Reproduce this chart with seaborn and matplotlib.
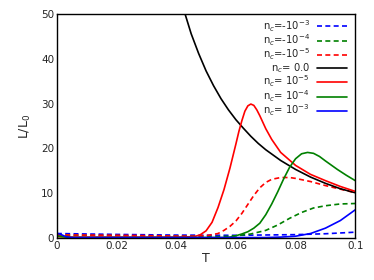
import numpy as np
import pandas as pd
import seaborn as sns
import matplotlib
matplotlib.use("Agg")
import matplotlib.pyplot as plt

sns.set_style("white")

# values (T, L/L0)
T_black = [0.040, 0.0425, 0.045, 0.0475, 0.050, 0.0525, 0.055, 0.0575, 0.060, 0.0625, 0.065,
           0.0675, 0.070, 0.075, 0.080, 0.085, 0.090, 0.095, 0.100]
L_black = [57.1, 51.0, 45.6, 41.2, 37.3, 34.0, 31.1, 28.6, 26.4, 24.5, 22.7,
           21.1, 19.7, 17.3, 15.3, 13.6, 12.2, 11.0, 10.1]

T_r = [0.0, 0.005, 0.02, 0.04, 0.046, 0.048, 0.050, 0.052, 0.054, 0.056, 0.058, 0.060, 0.061,
       0.062, 0.063, 0.064, 0.065, 0.066, 0.067, 0.068, 0.070, 0.072, 0.075, 0.080, 0.085,
       0.090, 0.095, 0.100]
L_r = [0.3, 0.2, 0.2, 0.2, 0.3, 0.7, 1.6, 3.5, 6.8, 10.8, 15.6, 21.0, 23.8,
       26.2, 28.3, 29.5, 29.9, 29.6, 28.6, 27.3, 24.4, 22.0, 19.1, 16.2, 14.2,
       12.8, 11.5, 10.4]

T_g = [0.0, 0.005, 0.03, 0.056, 0.058, 0.060, 0.062, 0.064, 0.066, 0.068, 0.070, 0.072, 0.074,
       0.076, 0.078, 0.080, 0.082, 0.084, 0.086, 0.088, 0.090, 0.094, 0.097, 0.100]
L_g = [0.4, 0.1, 0.1, 0.1, 0.2, 0.5, 0.9, 1.4, 2.2, 3.3, 5.2, 7.6, 10.3,
       13.2, 15.8, 17.7, 18.8, 19.1, 18.9, 18.2, 17.2, 15.3, 14.0, 12.8]

T_b = [0.0, 0.001, 0.003, 0.005, 0.03, 0.070, 0.075, 0.080, 0.085, 0.090, 0.095, 0.100]
L_b = [1.0, 0.9, 0.3, 0.1, 0.1, 0.1, 0.2, 0.4, 1.0, 2.2, 3.9, 6.3]

T_rd = [0.0, 0.02, 0.046, 0.050, 0.054, 0.056, 0.058, 0.060, 0.062, 0.064, 0.066, 0.068,
        0.070, 0.072, 0.075, 0.078, 0.080, 0.085, 0.090, 0.095, 0.100]
L_rd = [0.7, 0.6, 0.4, 0.5, 1.0, 1.7, 2.6, 3.8, 5.5, 7.5, 9.5, 11.2,
        12.4, 13.1, 13.5, 13.5, 13.3, 12.6, 11.7, 10.9, 10.1]

T_gd = [0.0, 0.02, 0.055, 0.060, 0.065, 0.070, 0.074, 0.078, 0.082, 0.086, 0.090, 0.095, 0.100]
L_gd = [0.6, 0.5, 0.3, 0.5, 0.9, 1.7, 2.9, 4.4, 5.7, 6.7, 7.2, 7.6, 7.7]

T_bd = [0.0, 0.02, 0.04, 0.06, 0.08, 0.09, 0.100]
L_bd = [1.0, 0.8, 0.65, 0.6, 0.75, 0.95, 1.3]

series = [
    (r"n$_c$=-10$^{-3}$", T_bd, L_bd, "blue", "--"),
    (r"n$_c$=-10$^{-4}$", T_gd, L_gd, "green", "--"),
    (r"n$_c$=-10$^{-5}$", T_rd, L_rd, "red", "--"),
    (r"n$_c$= 0.0", T_black, L_black, "black", "-"),
    (r"n$_c$= 10$^{-5}$", T_r, L_r, "red", "-"),
    (r"n$_c$= 10$^{-4}$", T_g, L_g, "green", "-"),
    (r"n$_c$= 10$^{-3}$", T_b, L_b, "blue", "-"),
]

fig, ax = plt.subplots(figsize=(3.74, 2.8), dpi=100)
for label, t, l, c, ls in series:
    df = pd.DataFrame({"T": t, "L": l})
    sns.lineplot(data=df, x="T", y="L", ax=ax, color=c, linestyle=ls,
                 linewidth=1.2, label=label, dashes=False)
    if ls == "--":
        ax.lines[-1].set_dashes((3, 2))

ax.set_xlim(0, 0.1)
ax.set_ylim(0, 50)
ax.set_xticks([0, 0.02, 0.04, 0.06, 0.08, 0.1])
ax.set_xticklabels(["0", "0.02", "0.04", "0.06", "0.08", "0.1"])
ax.set_yticks([0, 10, 20, 30, 40, 50])
ax.tick_params(length=0, pad=2, labelsize=7.5)
ax.set_xlabel("T", fontsize=9, labelpad=1)
ax.set_ylabel(r"L/L$_0$", fontsize=9, labelpad=6)
for s in ax.spines.values():
    s.set_color("black")
    s.set_linewidth(1.0)

leg = ax.legend(loc="upper right", frameon=False, markerfirst=False, fontsize=7.2,
                handlelength=3.0, labelspacing=-0.12, borderaxespad=0.3,
                borderpad=0.1, handletextpad=0.7, bbox_to_anchor=(0.985, 1.0))
for t in leg.get_texts():
    t.set_ha("right")

fig.subplots_adjust(left=0.152, right=0.950, top=0.950, bottom=0.150)
fig.savefig("out.png", dpi=100)
